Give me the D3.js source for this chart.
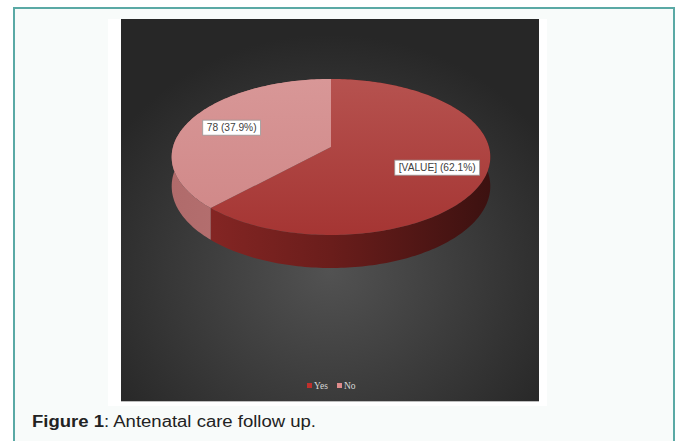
<!DOCTYPE html>
<html>
<head>
<meta charset="utf-8">
<script src="https://cdn.jsdelivr.net/npm/d3@7"></script>
<style>
  html, body { margin: 0; padding: 0; background: #ffffff; }
  svg { display: block; }
</style>
</head>
<body>
<svg id="chart" width="678" height="441"></svg>
<script>
// Antenatal care follow up: counts per answer
const categories = ["Yes", "No"];
const counts = [128, 78];
// Value field shown in each data label (null = use the count itself)
const valueFields = ["[VALUE]", null];
const captionBold = "Figure 1";
const captionRest = ": Antenatal care follow up.";

const topColors  = [["#b6524f", "#a53533"], ["#d89797", "#cf8686"]];
const wallColors = [["#8c2826", "#6a1d1b", "#3c1110"], ["#b06b6b", "#bc7676", "#bc7676"]];
const legendColors = ["#c0302c", "#e08c8c"];

const svg = d3.select("#chart");
const defs = svg.append("defs");

// page frame
svg.append("rect").attr("x", 14).attr("y", 8).attr("width", 660).attr("height", 460)
  .attr("fill", "#f8fbfa").attr("stroke", "#5aa9a5").attr("stroke-width", 2);

// figure panel
svg.append("rect").attr("x", 108).attr("y", 19).attr("width", 439).attr("height", 387).attr("fill", "#ffffff");

const bg = defs.append("radialGradient").attr("id", "bgGrad")
  .attr("cx", "50%").attr("cy", "66%").attr("r", "62%");
bg.append("stop").attr("offset", "0%").attr("stop-color", "#525252");
bg.append("stop").attr("offset", "100%").attr("stop-color", "#272727");
svg.append("rect").attr("x", 121).attr("y", 19).attr("width", 418).attr("height", 382).attr("fill", "url(#bgGrad)");
svg.append("line").attr("x1", 121).attr("x2", 539).attr("y1", 401.5).attr("y2", 401.5)
  .attr("stroke", "#bdbdbd").attr("stroke-width", 1);

// 3D pie projection (tilted disc with mild perspective)
const cx = 331, cy = 147, rx = 158, ry = 76.7, persp = 0.128, depth = 28.8;
function proj(theta, k, drop) {
  const u = Math.sin(theta) * k, v = -Math.cos(theta) * k;
  const s = 1 / (1 - persp * v);
  return [cx + rx * u * s, cy + (ry * v + drop) * s];
}
function arcPoints(a0, a1, k, drop) {
  const n = Math.max(2, Math.ceil(Math.abs(a1 - a0) / 0.02));
  return d3.range(n + 1).map(i => proj(a0 + (a1 - a0) * i / n, k, drop));
}

const pie = d3.pie().sort(null).value(d => d)(counts);
const line = d3.line().curve(d3.curveLinear);

// gradients
pie.forEach((p, i) => {
  const tg = defs.append("linearGradient").attr("id", "top" + i)
    .attr("gradientUnits", "userSpaceOnUse").attr("x1", 0).attr("x2", 0).attr("y1", 79).attr("y2", 236);
  tg.append("stop").attr("offset", "0%").attr("stop-color", topColors[i][0]);
  tg.append("stop").attr("offset", "100%").attr("stop-color", topColors[i][1]);
  const wg = defs.append("linearGradient").attr("id", "wall" + i)
    .attr("gradientUnits", "userSpaceOnUse").attr("x1", 172).attr("x2", 490).attr("y1", 0).attr("y2", 0);
  wg.append("stop").attr("offset", "0%").attr("stop-color", wallColors[i][0]);
  wg.append("stop").attr("offset", "50%").attr("stop-color", wallColors[i][1]);
  wg.append("stop").attr("offset", "100%").attr("stop-color", wallColors[i][2]);
});

const pieG = svg.append("g");

// side walls
pie.forEach((p, i) => {
  const pts = arcPoints(p.startAngle, p.endAngle, 1, 0)
    .concat(arcPoints(p.endAngle, p.startAngle, 1, depth));
  pieG.append("path").attr("d", line(pts) + "Z").attr("fill", "url(#wall" + i + ")");
});

// top faces
pie.forEach((p, i) => {
  const pts = [proj(0, 0, 0)].concat(arcPoints(p.startAngle, p.endAngle, 1, 0));
  pieG.append("path").attr("d", line(pts) + "Z").attr("fill", "url(#top" + i + ")");
});

// data labels
const pct = d3.format(".1%");
const total = d3.sum(counts);
pie.forEach((p, i) => {
  const mid = (p.startAngle + p.endAngle) / 2;
  const [lx, ly] = proj(mid, 0.7, 0);
  const txt = (valueFields[i] ?? counts[i]) + " (" + pct(counts[i] / total) + ")";
  const g = svg.append("g");
  const rect = g.append("rect").attr("fill", "#ffffff").attr("stroke", "#9a9a9a").attr("stroke-width", 0.8);
  const t = g.append("text").attr("x", lx).attr("y", ly + 3.8).attr("text-anchor", "middle")
    .attr("font-family", "'Liberation Sans', Arial, sans-serif").attr("font-size", 10.2)
    .attr("fill", "#404040").text(txt);
  const w = t.node().getComputedTextLength() + 8;
  rect.attr("x", lx - w / 2).attr("y", ly - 7.5).attr("width", w).attr("height", 15);
});

// legend
const legendX = [307, 337];
categories.forEach((c, i) => {
  svg.append("rect").attr("x", legendX[i]).attr("y", 383).attr("width", 5).attr("height", 5)
    .attr("fill", legendColors[i]);
  svg.append("text").attr("x", legendX[i] + 7).attr("y", 389)
    .attr("font-family", "'Liberation Serif', 'Times New Roman', serif").attr("font-size", 9.5)
    .attr("fill", "#d9d9d9").text(c);
});

// caption
const cap = svg.append("text").attr("x", 32).attr("y", 427)
  .attr("font-family", "'Liberation Sans', Arial, sans-serif").attr("font-size", 16).attr("fill", "#222222")
  .attr("textLength", 284).attr("lengthAdjust", "spacingAndGlyphs");
cap.append("tspan").attr("font-weight", "bold").text(captionBold);
cap.append("tspan").text(captionRest);
</script>
</body>
</html>
